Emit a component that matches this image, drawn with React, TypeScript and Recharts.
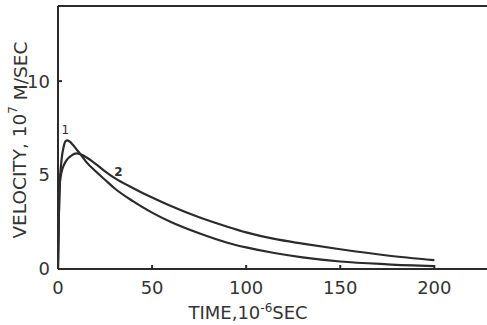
import React from 'react';
import { LineChart, Line, XAxis, YAxis, ReferenceLine } from 'recharts';

const times = [0, 0.5, 1, 2, 3, 4, 5, 6, 8, 10, 12, 15, 20, 25, 30, 40, 50, 60, 75, 90, 100, 115, 130, 150, 175, 200];
const velocity1 = [0, 3.0, 4.6, 5.9, 6.5, 6.8, 6.85, 6.8, 6.6, 6.35, 6.1, 5.7, 5.2, 4.75, 4.3, 3.6, 3.0, 2.5, 1.9, 1.4, 1.15, 0.85, 0.62, 0.4, 0.25, 0.15];
const velocity2 = [0, 3.0, 4.6, 5.2, 5.5, 5.7, 5.85, 5.95, 6.1, 6.15, 6.1, 5.95, 5.6, 5.2, 4.85, 4.3, 3.8, 3.35, 2.75, 2.25, 1.95, 1.6, 1.35, 1.05, 0.72, 0.47];
const xTicks = [0, 50, 100, 150, 200];
const yTicks = [0, 5, 10];

const data = times.map((t, i) => ({ t, v1: velocity1[i], v2: velocity2[i] }));

const INK = '#2b2b2b';
const TEXT = '#333';
const FONT = 'DejaVu Sans';

const label1 = (p: any) =>
  p.index === 6 ? (
    <text x={p.x - 2} y={p.y - 6} fontSize={12} fontFamily={FONT} fill={INK} textAnchor="middle">1</text>
  ) : null;
const label2 = (p: any) =>
  p.index === 14 ? (
    <text x={p.x + 4} y={p.y - 2} fontSize={12} fontFamily={FONT} fontWeight="bold" fill={INK} textAnchor="middle">2</text>
  ) : null;

const XLabel = (props: any) => {
  const vb = props.viewBox;
  const cx = vb.x + vb.width * 0.443;
  return (
    <text x={cx} y={vb.y + 50} textAnchor="middle" fontSize={18} fontFamily={FONT} fill={TEXT}>
      TIME,10<tspan dy={-7} fontSize={12}>-6</tspan><tspan dy={7}>SEC</tspan>
    </text>
  );
};

const YLabel = (props: any) => {
  const vb = props.viewBox;
  const cx = 20;
  const cy = vb.y + vb.height * 0.51;
  return (
    <text x={cx} y={cy} transform={`rotate(-90, ${cx}, ${cy})`} textAnchor="middle" dominantBaseline="central" fontSize={18.5} fontFamily={FONT} fill={TEXT}>
      VELOCITY, 10<tspan dy={-7} fontSize={12}>7</tspan><tspan dy={7}> M/SEC</tspan>
    </text>
  );
};

export default function App() {
  return (
    <div style={{ position: 'absolute', left: 0, top: 0, background: '#fff' }}>
      <LineChart width={487} height={325} data={data} margin={{ top: 6, right: 0, bottom: 0, left: 0 }}>
        <XAxis
          dataKey="t"
          type="number"
          domain={[0, 228]}
          ticks={xTicks}
          allowDataOverflow
          height={56}
          stroke={INK}
          strokeWidth={2}
          tickSize={-4}
          tickMargin={16}
          tick={{ fontSize: 18, fontFamily: FONT, fill: TEXT }}
          label={<XLabel />}
        />
        <YAxis
          type="number"
          domain={[0, 14]}
          ticks={yTicks}
          allowDataOverflow
          width={58}
          stroke={INK}
          strokeWidth={2}
          tickSize={-4}
          tickMargin={12}
          tick={{ fontSize: 18, fontFamily: FONT, fill: TEXT }}
          label={<YLabel />}
        />
        <ReferenceLine y={14} stroke={INK} strokeWidth={2} />
        <Line type="monotone" dataKey="v1" stroke={INK} strokeWidth={2.2} dot={false} isAnimationActive={false} label={label1} />
        <Line type="monotone" dataKey="v2" stroke={INK} strokeWidth={2.2} dot={false} isAnimationActive={false} label={label2} />
      </LineChart>
    </div>
  );
}
